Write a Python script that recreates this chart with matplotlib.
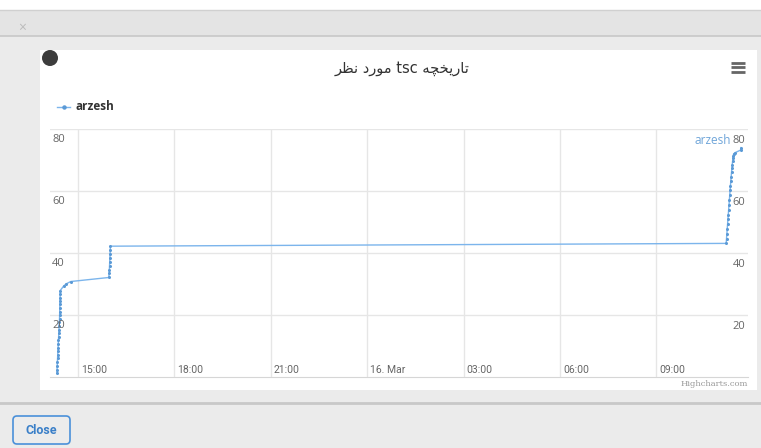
import matplotlib
matplotlib.use('Agg')
import matplotlib.pyplot as plt
import matplotlib.transforms as mtrans
from matplotlib.patches import Rectangle, Circle, FancyBboxPatch
import pandas as pd

# values (Highcharts popup)
times = [
    '2021-03-15 14:21:00', '2021-03-15 14:21:20', '2021-03-15 14:21:40', '2021-03-15 14:22:00',
    '2021-03-15 14:22:20', '2021-03-15 14:22:40', '2021-03-15 14:23:00', '2021-03-15 14:23:20',
    '2021-03-15 14:23:40', '2021-03-15 14:24:00', '2021-03-15 14:24:20', '2021-03-15 14:24:40',
    '2021-03-15 14:25:00', '2021-03-15 14:25:20', '2021-03-15 14:25:40', '2021-03-15 14:26:00',
    '2021-03-15 14:26:10', '2021-03-15 14:26:20', '2021-03-15 14:26:30', '2021-03-15 14:26:40',
    '2021-03-15 14:26:50', '2021-03-15 14:27:00', '2021-03-15 14:27:10', '2021-03-15 14:27:20',
    '2021-03-15 14:34:00', '2021-03-15 14:39:00', '2021-03-15 14:47:00',
    '2021-03-15 15:58:00', '2021-03-15 15:58:30', '2021-03-15 15:59:00', '2021-03-15 15:59:20',
    '2021-03-15 15:59:40', '2021-03-15 16:00:00', '2021-03-15 16:00:20', '2021-03-15 16:00:40',
    '2021-03-15 16:01:00',
    '2021-03-16 11:10:00', '2021-03-16 11:10:40', '2021-03-16 11:11:20', '2021-03-16 11:12:00',
    '2021-03-16 11:12:40', '2021-03-16 11:13:20', '2021-03-16 11:14:00', '2021-03-16 11:14:40',
    '2021-03-16 11:15:20', '2021-03-16 11:16:00', '2021-03-16 11:16:40', '2021-03-16 11:17:20',
    '2021-03-16 11:18:00', '2021-03-16 11:18:40', '2021-03-16 11:19:20', '2021-03-16 11:20:00',
    '2021-03-16 11:20:40', '2021-03-16 11:21:20', '2021-03-16 11:22:00', '2021-03-16 11:22:40',
    '2021-03-16 11:23:20', '2021-03-16 11:24:00', '2021-03-16 11:27:00', '2021-03-16 11:37:00',
    '2021-03-16 11:38:00',
]
values = [
    1.2, 2.4, 3.7, 4.8, 6.0, 7.2, 8.3, 9.5, 10.6, 11.8, 13.0, 14.1,
    15.3, 16.4, 17.6, 18.8, 19.9, 21.0, 22.2, 23.4, 24.5, 25.6, 26.8, 27.9,
    29.4, 30.1, 30.8,
    32.1, 33.4, 34.6, 35.9, 37.1, 38.4, 39.6, 40.9, 42.2,
    43.1, 44.6, 46.2, 47.8, 49.3, 50.9, 52.4, 54.0, 55.5, 57.1, 58.6, 60.2,
    61.7, 63.2, 64.6, 66.0, 67.3, 68.5, 69.6, 70.6, 71.4, 72.0, 72.4, 73.2,
    74.0,
]
y_ticks = [20, 40, 60, 80]
x_tick_times = ['2021-03-15 15:00', '2021-03-15 18:00', '2021-03-15 21:00', '2021-03-16 00:00',
                '2021-03-16 03:00', '2021-03-16 06:00', '2021-03-16 09:00']
x_tick_labels = ['15:00', '18:00', '21:00', '16. Mar', '03:00', '06:00', '09:00']
series_name = 'arzesh'
# "تاریخچه tsc مورد نظر" - shaped + reordered by hand, matplotlib has no bidi
title = '\uFEAE\uFEC8\uFEE7 \uFEA9\uFEAD\uFEEE\uFEE3 tsc \uFEEA\uFB7D\uFEA8\uFBFE\uFEAD\uFE8E\uFE97'

W, H = 761, 448
line_color = '#7cb5ec'
dot_color = '#5b9ad6'
plt.rcParams['font.family'] = ['Open Sans', 'DejaVu Sans']

fig = plt.figure(figsize=(W / 100, H / 100), dpi=100)
fig.patch.set_facecolor('#ebebeb')

# page / modal chrome, in pixel coords
bg = fig.add_axes([0, 0, 1, 1])
bg.set_xlim(0, W)
bg.set_ylim(H, 0)
bg.axis('off')
bg.add_patch(Rectangle((0, 0), W, 10, color='white', lw=0))
bg.add_patch(Rectangle((0, 10), W, 26, color='#e4e4e4', lw=0))
bg.plot([0, W], [10.5, 10.5], color='#d0d0d0', lw=1)
bg.plot([0, W], [36, 36], color='#c8c8c8', lw=1.2)
bg.text(22, 28, '\u00d7', color='#bbbbbb', fontsize=10, ha='center', va='center')
bg.add_patch(Rectangle((40, 50), 717, 340, color='white', lw=0))
bg.add_patch(Circle((50, 58), 8, color='#3d3d3d', lw=0))
for yy in [63, 67.5, 72]:
    bg.plot([731, 745], [yy, yy], color='#666666', lw=2, solid_capstyle='butt')
bg.text(402, 68, title, family=['DejaVu Sans'], fontsize=10.5, color='#333333',
        ha='center', va='center')
bg.plot([57, 70], [107, 107], color=line_color, lw=1)
bg.plot([63.5], [107], 'o', ms=2.2, color=dot_color)
bg.text(75, 107, series_name, fontsize=8.5, fontweight='bold', color='#333333', va='center')
bg.text(731, 141, series_name, fontsize=8.5, color='#6fa5d9', ha='right', va='center')
bg.text(748, 384, 'Highcharts.com', fontsize=6, color='#999999', ha='right', va='center',
        family=['DejaVu Serif'])
bg.plot([0, W], [403, 403], color='#c8c8c8', lw=2)
bg.add_patch(FancyBboxPatch((13, 416), 57, 28, boxstyle='round,pad=0,rounding_size=4',
                            fc='#ececec', ec='#4a90d9', lw=1.2))
bg.text(41.5, 430, 'Close', fontsize=9, fontweight='bold', color='#3a7fc8',
        family=['Roboto'], ha='center', va='center')

# chart
t = pd.to_datetime(pd.Series(times))
ax = fig.add_axes([50 / W, (H - 377) / H, 698 / W, 248 / H])
ax.patch.set_alpha(0)
ax.plot(t, values, color=line_color, lw=1, marker='o', ms=2.2, mfc=dot_color, mec='none',
        zorder=3)
pad = (t.max() - t.min()) * 0.01
ax.set_xlim(t.min() - pad, t.max() + pad)
ax.set_ylim(0, 80)
ax.set_yticks(y_ticks)
ax.set_xticks(pd.to_datetime(x_tick_times))
ax.grid(color='#e6e6e6', lw=1)
ax.tick_params(length=0, labelleft=False, labelbottom=False)
for s in ['top', 'left', 'right']:
    ax.spines[s].set_visible(False)
ax.spines['bottom'].set_color('#d6d6d6')

ytrans = mtrans.blended_transform_factory(ax.transAxes, ax.transData)
for v in y_ticks:
    ax.text(0.003, v, str(v), transform=mtrans.offset_copy(ytrans, fig=fig, y=-10.5, units='dots'),
            fontsize=8, color='#666666', va='center', ha='left')
    ax.text(0.9965, v, str(v), transform=mtrans.offset_copy(ytrans, fig=fig, y=-11.5, units='dots'),
            fontsize=8, color='#666666', va='center', ha='right')
xtrans = mtrans.blended_transform_factory(ax.transData, ax.transAxes)
for tt, lab in zip(pd.to_datetime(x_tick_times), x_tick_labels):
    ax.text(tt, 0, lab, transform=mtrans.offset_copy(xtrans, fig=fig, x=3, y=7, units='dots'),
            fontsize=7.5, color='#666666', va='center', ha='left', family=['Roboto'])

fig.savefig('out.png', dpi=100)
